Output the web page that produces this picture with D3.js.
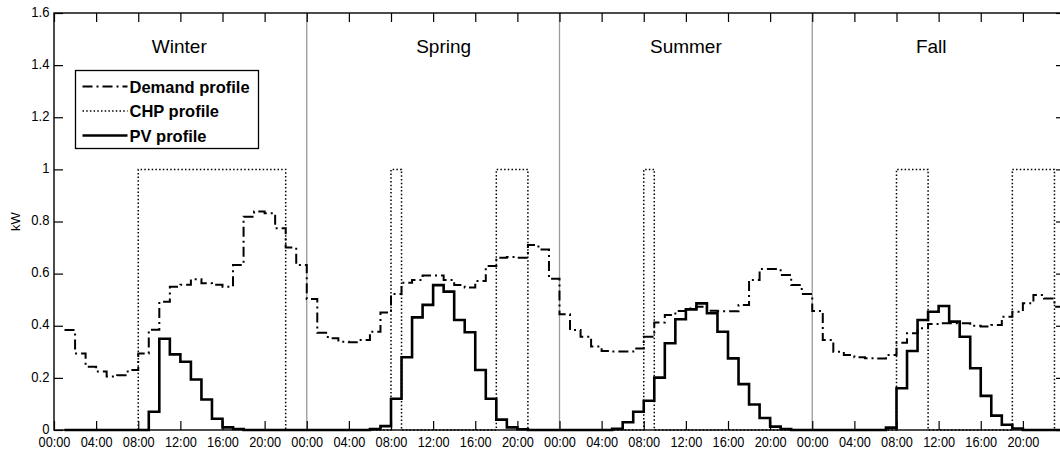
<!DOCTYPE html>
<html>
<head>
<meta charset="utf-8">
<script src="https://cdn.jsdelivr.net/npm/d3@7"></script>
<style>
  body { margin: 0; background: #fff; }
  svg { display: block; font-family: "Liberation Sans", Arial, sans-serif; }
</style>
</head>
<body>
<div id="chart"></div>
<script>
// hourly values, one per hour of a typical day in each season (value i is drawn from hour i+1)
var seasons = ["Winter", "Spring", "Summer", "Fall"];
var seasonLabelHours = [11.9, 37, 60, 83.3];
var hourLabels = ["00:00", "04:00", "08:00", "12:00", "16:00", "20:00"];
var yTicks = [0, 0.2, 0.4, 0.6, 0.8, 1, 1.2, 1.4, 1.6];

var demandWinter = [0.384, 0.294, 0.243, 0.224, 0.205, 0.21, 0.23, 0.294, 0.385, 0.492, 0.55, 0.557, 0.578, 0.563, 0.557, 0.55, 0.633, 0.818, 0.838, 0.832, 0.774, 0.70, 0.633, 0.503];
var demandSpring = [0.373, 0.352, 0.339, 0.337, 0.345, 0.377, 0.451, 0.522, 0.565, 0.576, 0.593, 0.593, 0.576, 0.556, 0.547, 0.572, 0.629, 0.661, 0.664, 0.661, 0.71, 0.693, 0.58, 0.444];
var demandSummer = [0.384, 0.358, 0.32, 0.303, 0.301, 0.301, 0.313, 0.358, 0.412, 0.441, 0.457, 0.466, 0.473, 0.458, 0.456, 0.456, 0.48, 0.576, 0.618, 0.618, 0.595, 0.556, 0.522, 0.457];
var demandFall = [0.345, 0.30, 0.288, 0.279, 0.275, 0.274, 0.288, 0.335, 0.371, 0.39, 0.407, 0.41, 0.41, 0.41, 0.40, 0.397, 0.403, 0.435, 0.454, 0.486, 0.518, 0.505, 0.473, 0.47];

var chpWinter = [0, 0, 0, 0, 0, 0, 0, 1, 1, 1, 1, 1, 1, 1, 1, 1, 1, 1, 1, 1, 1, 0, 0, 0];
var chpSpring = [0, 0, 0, 0, 0, 0, 0, 1, 0, 0, 0, 0, 0, 0, 0, 0, 0, 1, 1, 1, 0, 0, 0, 0];
var chpSummer = [0, 0, 0, 0, 0, 0, 0, 1, 0, 0, 0, 0, 0, 0, 0, 0, 0, 0, 0, 0, 0, 0, 0, 0];
var chpFall = [0, 0, 0, 0, 0, 0, 0, 1, 1, 1, 0, 0, 0, 0, 0, 0, 0, 0, 1, 1, 1, 1, 0, 0];

var pvWinter = [0, 0, 0, 0, 0, 0, 0, 0, 0.07, 0.35, 0.29, 0.262, 0.194, 0.117, 0.043, 0.01, 0.004, 0, 0, 0, 0, 0, 0, 0];
var pvSpring = [0, 0, 0, 0, 0, 0.004, 0.015, 0.12, 0.279, 0.432, 0.48, 0.556, 0.531, 0.422, 0.375, 0.23, 0.12, 0.04, 0.01, 0.003, 0, 0, 0, 0];
var pvSummer = [0, 0, 0, 0, 0.005, 0.03, 0.07, 0.112, 0.201, 0.333, 0.425, 0.463, 0.486, 0.448, 0.377, 0.275, 0.176, 0.098, 0.046, 0.013, 0.004, 0, 0, 0];
var pvFall = [0, 0, 0, 0, 0, 0, 0.009, 0.16, 0.303, 0.422, 0.454, 0.476, 0.416, 0.358, 0.237, 0.131, 0.055, 0.02, 0.006, 0, 0, 0, 0, 0];

var width = 1060, height = 456;
var x = d3.scaleLinear().domain([0, 96]).range([54, 1065]);
var y = d3.scaleLinear().domain([0, 1.6]).range([430, 13]);

function toPoints(arrays) {
    var values = [].concat.apply([], arrays);
    return values.map(function(v, i) { return { t: i + 1, v: v }; });
}
var demand = toPoints([demandWinter, demandSpring, demandSummer, demandFall]);
var chp = toPoints([chpWinter, chpSpring, chpSummer, chpFall]);
var pv = toPoints([pvWinter, pvSpring, pvSummer, pvFall]);

var svg = d3.select("#chart").append("svg")
    .attr("width", width)
    .attr("height", height);

// season dividers
svg.selectAll(".divider")
    .data([24, 48, 72])
    .enter().append("line")
    .attr("class", "divider")
    .attr("x1", function(d) { return x(d); })
    .attr("x2", function(d) { return x(d); })
    .attr("y1", y(1.6))
    .attr("y2", y(0))
    .attr("stroke", "#9a9a9a")
    .attr("stroke-width", 1.3);

var stairs = d3.line()
    .x(function(d) { return x(d.t); })
    .y(function(d) { return y(d.v); })
    .curve(d3.curveStepAfter);

var styles = {
    demand: { width: 2, dash: "10,4,2,4" },
    chp: { width: 1.5, dash: "1.5,2.2" },
    pv: { width: 2.6, dash: null }
};

svg.append("path").datum(chp)
    .attr("fill", "none").attr("stroke", "#000")
    .attr("stroke-width", styles.chp.width)
    .attr("stroke-dasharray", styles.chp.dash)
    .attr("d", stairs);

svg.append("path").datum(demand)
    .attr("fill", "none").attr("stroke", "#000")
    .attr("stroke-width", styles.demand.width)
    .attr("stroke-dasharray", styles.demand.dash)
    .attr("d", stairs);

svg.append("path").datum(pv)
    .attr("fill", "none").attr("stroke", "#000")
    .attr("stroke-width", styles.pv.width)
    .attr("d", stairs);

// axes
var xTickHours = d3.range(0, 96, 4);
var xAxis = d3.axisBottom(x)
    .tickValues(xTickHours)
    .tickSize(-9)
    .tickSizeOuter(0)
    .tickPadding(7)
    .tickFormat(function(d) { return hourLabels[(d % 24) / 4]; });

var gx = svg.append("g")
    .attr("transform", "translate(0," + y(0) + ")")
    .call(xAxis);
gx.select(".domain").remove();
gx.selectAll("line").attr("stroke", "#000").attr("stroke-width", 1.2);
gx.selectAll("text")
    .attr("fill", "#000")
    .style("font-size", "14.5px")
    .attr("transform", "scale(0.88,1)");

var gxTop = svg.append("g")
    .attr("transform", "translate(0," + y(1.6) + ")")
    .call(d3.axisTop(x).tickValues(xTickHours.concat([96])).tickSize(-9).tickSizeOuter(0).tickFormat(""));
gxTop.select(".domain").remove();
gxTop.selectAll("line").attr("stroke", "#000").attr("stroke-width", 1.2);

var gy = svg.append("g")
    .attr("transform", "translate(" + x(0) + ",0)")
    .call(d3.axisLeft(y).tickValues(yTicks).tickSize(-9).tickSizeOuter(0).tickPadding(5)
        .tickFormat(function(d) { return d3.format("")(+d.toFixed(1)); }));
gy.select(".domain").remove();
gy.selectAll("line").attr("stroke", "#000").attr("stroke-width", 1.2);
gy.selectAll("text")
    .attr("fill", "#000")
    .attr("dy", "0.22em")
    .style("font-size", "14.5px")
    .attr("transform", "scale(0.9,1)");

var gyRight = svg.append("g")
    .attr("transform", "translate(" + x(96) + ",0)")
    .call(d3.axisRight(y).tickValues(yTicks).tickSize(-9).tickSizeOuter(0).tickFormat(""));
gyRight.select(".domain").remove();
gyRight.selectAll("line").attr("stroke", "#000").attr("stroke-width", 1.2);

// axes box
svg.append("rect")
    .attr("x", x(0))
    .attr("y", y(1.6))
    .attr("width", x(96) - x(0))
    .attr("height", y(0) - y(1.6))
    .attr("fill", "none")
    .attr("stroke", "#000")
    .attr("stroke-width", 1.4);

svg.append("text")
    .attr("transform", "translate(20," + ((y(0) + y(1.6)) / 2) + ") rotate(-90)")
    .attr("text-anchor", "middle")
    .style("font-size", "13px")
    .text("kW");

// season titles
svg.selectAll(".season")
    .data(seasons)
    .enter().append("text")
    .attr("class", "season")
    .attr("x", function(d, i) { return x(seasonLabelHours[i]); })
    .attr("y", 52.5)
    .attr("text-anchor", "middle")
    .style("font-size", "19px")
    .text(function(d) { return d; });

// legend
var legend = svg.append("g").attr("transform", "translate(75.5,70.5)");
legend.append("rect")
    .attr("width", 183)
    .attr("height", 78)
    .attr("fill", "#fff")
    .attr("stroke", "#000")
    .attr("stroke-width", 1.3);

var legendItems = [
    { name: "Demand profile", key: "demand" },
    { name: "CHP profile", key: "chp" },
    { name: "PV profile", key: "pv" }
];
legendItems.forEach(function(item, i) {
    var cy = 16 + i * 24.5;
    legend.append("line")
        .attr("x1", 7).attr("x2", 52)
        .attr("y1", cy).attr("y2", cy)
        .attr("stroke", "#000")
        .attr("stroke-width", styles[item.key].width)
        .attr("stroke-dasharray", styles[item.key].dash);
    legend.append("text")
        .attr("x", 54)
        .attr("y", cy + 6.3)
        .style("font-size", "16.5px")
        .style("font-weight", "bold")
        .text(item.name);
});
</script>
</body>
</html>
